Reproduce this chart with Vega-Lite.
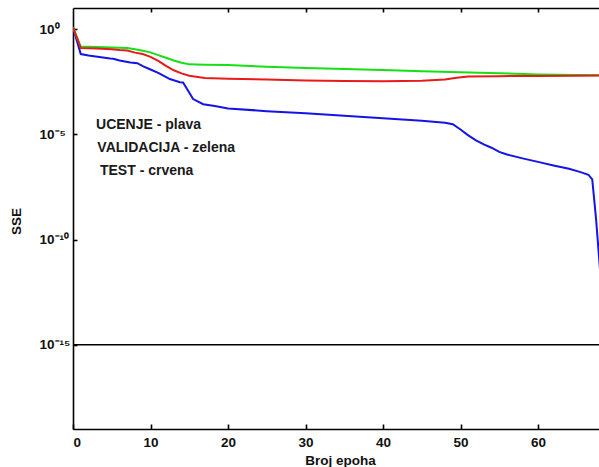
{
  "$schema": "https://vega.github.io/schema/vega-lite/v6.json",
  "autosize": {"type": "none"},
  "padding": {"left": 73, "top": 8, "right": 0, "bottom": 38},
  "width": 527,
  "height": 421,
  "background": "white",
  "config": {
    "view": {"stroke": null},
    "font": "Liberation Sans",
    "axis": {
      "grid": false,
      "domainColor": "black",
      "domainWidth": 1.6,
      "tickColor": "black",
      "tickWidth": 1.6,
      "labelColor": "#111111",
      "titleColor": "#111111",
      "labelFont": "Liberation Sans",
      "titleFont": "Liberation Sans",
      "labelFontSize": 13.5,
      "titleFontSize": 13.5,
      "labelFontWeight": "bold",
      "titleFontWeight": "bold"
    }
  },
  "datasets": {
    "krive": [
      {"epoha": 0, "sse": 1.2, "skup": "UCENJE"},
      {"epoha": 1, "sse": 0.065, "skup": "UCENJE"},
      {"epoha": 2, "sse": 0.055, "skup": "UCENJE"},
      {"epoha": 4.8, "sse": 0.04, "skup": "UCENJE"},
      {"epoha": 5.2, "sse": 0.039, "skup": "UCENJE"},
      {"epoha": 6, "sse": 0.032, "skup": "UCENJE"},
      {"epoha": 7.4, "sse": 0.026, "skup": "UCENJE"},
      {"epoha": 8.3, "sse": 0.024, "skup": "UCENJE"},
      {"epoha": 9, "sse": 0.0174, "skup": "UCENJE"},
      {"epoha": 10, "sse": 0.012, "skup": "UCENJE"},
      {"epoha": 11, "sse": 0.0083, "skup": "UCENJE"},
      {"epoha": 12.5, "sse": 0.0042, "skup": "UCENJE"},
      {"epoha": 13.8, "sse": 0.003, "skup": "UCENJE"},
      {"epoha": 14.2, "sse": 0.0029, "skup": "UCENJE"},
      {"epoha": 15.5, "sse": 0.00047, "skup": "UCENJE"},
      {"epoha": 16.8, "sse": 0.00027, "skup": "UCENJE"},
      {"epoha": 18.3, "sse": 0.00022, "skup": "UCENJE"},
      {"epoha": 20, "sse": 0.00017, "skup": "UCENJE"},
      {"epoha": 25, "sse": 0.000126, "skup": "UCENJE"},
      {"epoha": 30, "sse": 0.0001, "skup": "UCENJE"},
      {"epoha": 35, "sse": 7.6e-5, "skup": "UCENJE"},
      {"epoha": 40, "sse": 5.8e-5, "skup": "UCENJE"},
      {"epoha": 45, "sse": 4.4e-5, "skup": "UCENJE"},
      {"epoha": 48, "sse": 3.5e-5, "skup": "UCENJE"},
      {"epoha": 49, "sse": 3.0e-5, "skup": "UCENJE"},
      {"epoha": 50, "sse": 1.7e-5, "skup": "UCENJE"},
      {"epoha": 51, "sse": 8.9e-6, "skup": "UCENJE"},
      {"epoha": 52, "sse": 5.2e-6, "skup": "UCENJE"},
      {"epoha": 53, "sse": 3.3e-6, "skup": "UCENJE"},
      {"epoha": 54, "sse": 2.3e-6, "skup": "UCENJE"},
      {"epoha": 55, "sse": 1.47e-6, "skup": "UCENJE"},
      {"epoha": 56, "sse": 1.1e-6, "skup": "UCENJE"},
      {"epoha": 58, "sse": 7.2e-7, "skup": "UCENJE"},
      {"epoha": 60, "sse": 4.9e-7, "skup": "UCENJE"},
      {"epoha": 62, "sse": 3.3e-7, "skup": "UCENJE"},
      {"epoha": 64, "sse": 2.3e-7, "skup": "UCENJE"},
      {"epoha": 65.5, "sse": 1.6e-7, "skup": "UCENJE"},
      {"epoha": 66.5, "sse": 1.2e-7, "skup": "UCENJE"},
      {"epoha": 67, "sse": 7.2e-8, "skup": "UCENJE"},
      {"epoha": 67.5, "sse": 8.9e-10, "skup": "UCENJE"},
      {"epoha": 68, "sse": 3.7e-12, "skup": "UCENJE"},
      {"epoha": 0, "sse": 1.2, "skup": "VALIDACIJA"},
      {"epoha": 1, "sse": 0.148, "skup": "VALIDACIJA"},
      {"epoha": 3, "sse": 0.139, "skup": "VALIDACIJA"},
      {"epoha": 5, "sse": 0.132, "skup": "VALIDACIJA"},
      {"epoha": 7, "sse": 0.125, "skup": "VALIDACIJA"},
      {"epoha": 8, "sse": 0.11, "skup": "VALIDACIJA"},
      {"epoha": 9, "sse": 0.093, "skup": "VALIDACIJA"},
      {"epoha": 10, "sse": 0.078, "skup": "VALIDACIJA"},
      {"epoha": 11, "sse": 0.058, "skup": "VALIDACIJA"},
      {"epoha": 12, "sse": 0.043, "skup": "VALIDACIJA"},
      {"epoha": 13, "sse": 0.032, "skup": "VALIDACIJA"},
      {"epoha": 14, "sse": 0.025, "skup": "VALIDACIJA"},
      {"epoha": 15, "sse": 0.021, "skup": "VALIDACIJA"},
      {"epoha": 17, "sse": 0.0204, "skup": "VALIDACIJA"},
      {"epoha": 20, "sse": 0.0194, "skup": "VALIDACIJA"},
      {"epoha": 25, "sse": 0.0163, "skup": "VALIDACIJA"},
      {"epoha": 30, "sse": 0.0142, "skup": "VALIDACIJA"},
      {"epoha": 35, "sse": 0.0125, "skup": "VALIDACIJA"},
      {"epoha": 40, "sse": 0.0112, "skup": "VALIDACIJA"},
      {"epoha": 45, "sse": 0.01, "skup": "VALIDACIJA"},
      {"epoha": 50, "sse": 0.0088, "skup": "VALIDACIJA"},
      {"epoha": 55, "sse": 0.0079, "skup": "VALIDACIJA"},
      {"epoha": 60, "sse": 0.007, "skup": "VALIDACIJA"},
      {"epoha": 65, "sse": 0.0066, "skup": "VALIDACIJA"},
      {"epoha": 68, "sse": 0.0063, "skup": "VALIDACIJA"},
      {"epoha": 0, "sse": 1.2, "skup": "TEST"},
      {"epoha": 1, "sse": 0.125, "skup": "TEST"},
      {"epoha": 3, "sse": 0.118, "skup": "TEST"},
      {"epoha": 5, "sse": 0.11, "skup": "TEST"},
      {"epoha": 6, "sse": 0.1, "skup": "TEST"},
      {"epoha": 7, "sse": 0.095, "skup": "TEST"},
      {"epoha": 8, "sse": 0.076, "skup": "TEST"},
      {"epoha": 9, "sse": 0.065, "skup": "TEST"},
      {"epoha": 10, "sse": 0.048, "skup": "TEST"},
      {"epoha": 11, "sse": 0.031, "skup": "TEST"},
      {"epoha": 12, "sse": 0.018, "skup": "TEST"},
      {"epoha": 13, "sse": 0.011, "skup": "TEST"},
      {"epoha": 14, "sse": 0.0078, "skup": "TEST"},
      {"epoha": 15, "sse": 0.006, "skup": "TEST"},
      {"epoha": 17, "sse": 0.0047, "skup": "TEST"},
      {"epoha": 20, "sse": 0.0044, "skup": "TEST"},
      {"epoha": 25, "sse": 0.004, "skup": "TEST"},
      {"epoha": 30, "sse": 0.0036, "skup": "TEST"},
      {"epoha": 35, "sse": 0.0034, "skup": "TEST"},
      {"epoha": 40, "sse": 0.0033, "skup": "TEST"},
      {"epoha": 45, "sse": 0.0035, "skup": "TEST"},
      {"epoha": 48, "sse": 0.004, "skup": "TEST"},
      {"epoha": 49.5, "sse": 0.0049, "skup": "TEST"},
      {"epoha": 51, "sse": 0.0055, "skup": "TEST"},
      {"epoha": 55, "sse": 0.0058, "skup": "TEST"},
      {"epoha": 60, "sse": 0.0059, "skup": "TEST"},
      {"epoha": 65, "sse": 0.0061, "skup": "TEST"},
      {"epoha": 68, "sse": 0.0063, "skup": "TEST"}
    ],
    "cilj": [{"epoha": 0, "epoha2": 68, "sse": 1e-15}],
    "oznake": [
      {"epoha": 2.97, "sse": 1.87e-5, "tekst": "UCENJE - plava"},
      {"epoha": 3.14, "sse": 1.38e-6, "tekst": "VALIDACIJA - zelena"},
      {"epoha": 3.48, "sse": 1.12e-7, "tekst": "TEST - crvena"}
    ]
  },
  "resolve": {"axis": {"x": "independent"}},
  "layer": [
    {
      "data": {"name": "krive"},
      "mark": {"type": "line", "strokeWidth": 2, "clip": true},
      "encoding": {
        "x": {
          "field": "epoha", "type": "quantitative",
          "scale": {"domain": [0, 68], "nice": false, "zero": false},
          "axis": {
            "orient": "bottom", "values": [0, 10, 20, 30, 40, 50, 60],
            "tickSize": -5, "labelPadding": 11, "labelBaseline": "top",
            "title": "Broj epoha", "titleX": 267, "titleY": 35,
            "titleBaseline": "alphabetic", "titleAlign": "center"
          }
        },
        "y": {
          "field": "sse", "type": "quantitative",
          "scale": {"type": "log", "domain": [1e-19, 10], "nice": false},
          "axis": {
            "values": [1, 1e-5, 1e-10, 1e-15],
            "tickSize": -4, "labelAlign": "left", "labelPadding": 38,
            "labelBaseline": "middle",
            "labelExpr": "round(log(datum.value)/LN10) == 0 ? '10⁰' : round(log(datum.value)/LN10) == -5 ? '10⁻⁵' : round(log(datum.value)/LN10) == -10 ? '10⁻¹⁰' : '10⁻¹⁵'",
            "title": "SSE", "titleAngle": -90, "titleX": -56.5, "titleY": 213,
            "titleAlign": "center", "titleBaseline": "middle"
          }
        },
        "color": {
          "field": "skup", "type": "nominal",
          "scale": {"domain": ["UCENJE", "VALIDACIJA", "TEST"], "range": ["#1414e6", "#14e014", "#e81a1a"]},
          "legend": null
        },
        "order": {"field": "epoha", "type": "quantitative"}
      }
    },
    {
      "data": {"name": "cilj"},
      "mark": {"type": "rule", "color": "black", "strokeWidth": 1.6},
      "encoding": {
        "x": {"field": "epoha", "type": "quantitative", "axis": null},
        "x2": {"field": "epoha2"},
        "y": {"field": "sse", "type": "quantitative"}
      }
    },
    {
      "data": {"name": "oznake"},
      "mark": {"type": "text", "align": "left", "baseline": "alphabetic", "font": "Liberation Sans", "fontSize": 14, "fontWeight": "bold", "color": "#1a1a1a"},
      "encoding": {
        "x": {
          "field": "epoha", "type": "quantitative",
          "axis": {"orient": "top", "values": [10, 20, 30, 40, 50, 60], "labels": false, "title": null, "tickSize": -4}
        },
        "y": {"field": "sse", "type": "quantitative"},
        "text": {"field": "tekst"}
      }
    }
  ]
}
